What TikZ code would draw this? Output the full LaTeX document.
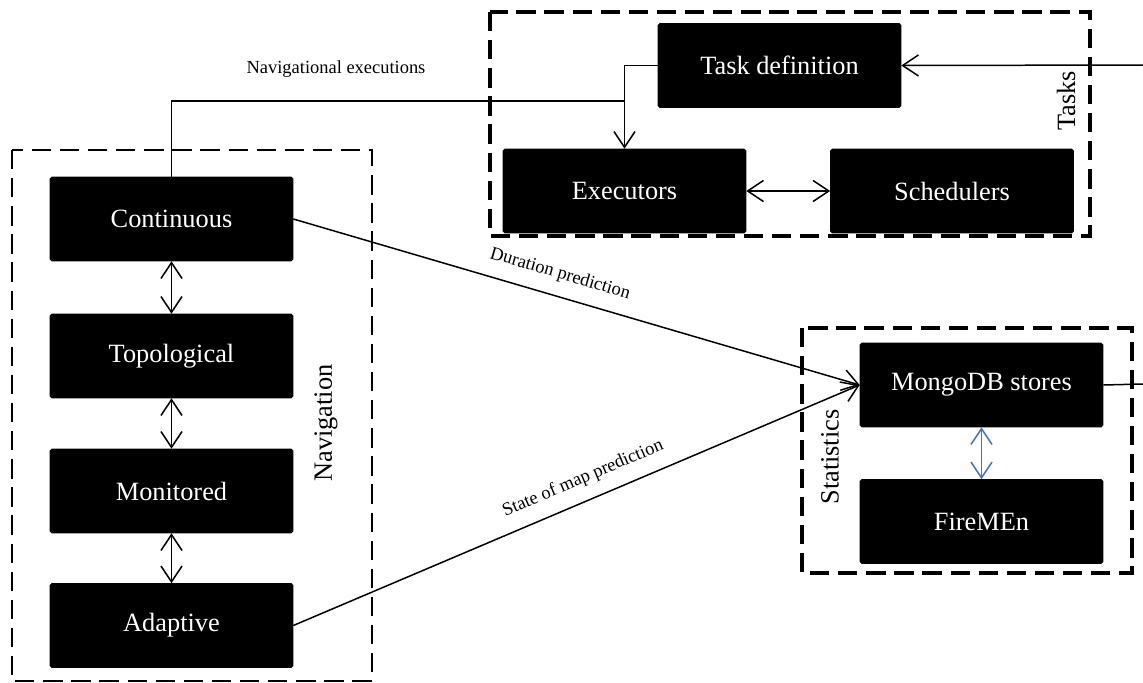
\documentclass[tikz,border=0pt]{standalone}
\usepackage{fontspec}
\setmainfont{Liberation Serif}
\usetikzlibrary{positioning,calc,arrows.meta}
\definecolor{linkblue}{HTML}{4472C4}

\begin{document}
\begin{tikzpicture}
	[   x=0.02cm,y=-0.02cm,
	    bnode/.style={draw=black,fill=black,text=white,rounded corners=1pt,minimum width=4.86cm,minimum height=1.68cm,inner sep=0pt,font=\fontsize{15}{18}\selectfont},
	    gbox/.style={draw=black,line width=#1,dash pattern=on 11pt off 5pt},
	    glabel/.style={rotate=90,font=\fontsize{15}{18}\selectfont},
	    elabel/.style={font=\fontsize{10.5}{12}\selectfont},
	]
	\tikzset{normal arrow/.style={draw,line width=0.85pt,-{Straight Barb[length=9pt,width=12pt]}}}
	\tikzset{both arrow/.style={draw,line width=0.85pt,{Straight Barb[length=9pt,width=12pt]}-{Straight Barb[length=9pt,width=12pt]}}}
	\tikzset{plain line/.style={draw,line width=0.85pt}}
	\useasboundingbox (0,0) rectangle (1143,683);

	% group boxes
	\draw[gbox=1.1pt] (12,150) rectangle (372,681);
	\draw[gbox=1.8pt] (490,12) rectangle (1090,236);
	\draw[gbox=1.8pt] (802,328) rectangle (1132,573);

	\node[glabel] (navlabel) at (326,423) {Navigation};
	\node[glabel] (tasklabel) at (1066,101) {Tasks};
	\node[glabel] (statlabel) at (830,457) {Statistics};

	% navigation
	\node[bnode] (nav-1) at (171.5,219) {Continuous};
	\node[bnode] (nav-2) at (171.5,356) {Topological};
	\node[bnode] (nav-3) at (171.5,491) {Monitored};
	\node[bnode] (nav-4) at (171.5,625.5) {Adaptive};

	% tasks
	\node[bnode] (tdef) at (779.5,65.5) {Task definition};
	\node[bnode] (exec) at (624.5,191) {Executors};
	\node[bnode] (sched) at (952,191) {Schedulers};

	% statistics
	\node[bnode] (mongo) at (981.5,385) {MongoDB stores};
	\node[bnode] (fire) at (981.5,521.5) {FireMEn};

	\coordinate (j) at (624.5,101);
	\coordinate (rin) at (1143,65);
	\coordinate (rout) at (1143,384);

	\foreach \x/\y in {1/2,2/3,3/4}
	{
		\path[both arrow] (nav-\x) -- (nav-\y);
	}

	\path[both arrow] (exec) -- (sched);
	\path[both arrow,draw=linkblue] (mongo) -- (fire);

	\path[normal arrow] (nav-1.north) |- (j) -- (exec.north);
	\path[plain line] (tdef.west) -| (j);
	\node[elabel] (navexec) at (336,69) {Navigational executions};

	\path[normal arrow] (rin) -- (tdef.east);
	\path[plain line] (mongo.east) -- (rout);

	\path[normal arrow] (nav-1.east) -- node[elabel,above=4pt,sloped,pos=0.46] {Duration prediction} (mongo.west);
	\path[normal arrow] (nav-4.east) -- node[elabel,above=4pt,sloped,pos=0.527] {State of map prediction} (mongo.west);

\end{tikzpicture}
\end{document}
